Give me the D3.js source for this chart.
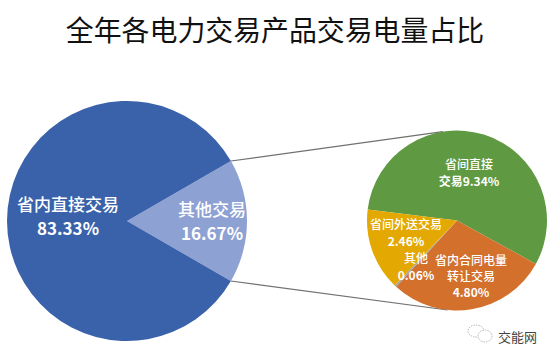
<!DOCTYPE html>
<html>
<head>
<meta charset="utf-8">
<script src="https://cdn.jsdelivr.net/npm/d3@7"></script>
<style>
  html, body { margin: 0; padding: 0; background: #fff; }
  text { font-family: "Noto Sans CJK SC", sans-serif; }
</style>
</head>
<body>
<div id="chart"></div>
<script>
const title = '全年各电力交易产品交易电量占比';

// Main pie
const mainNames = ['其他交易', '省内直接交易'];
const mainValues = [16.67, 83.33];
const mainColors = ['#8ea1d3', '#3a62aa'];

// Detail pie (breakdown of 其他交易)
const subNames = ['省间直接交易', '省内合同电量转让交易', '其他', '省间外送交易'];
const subValues = [9.34, 4.80, 0.06, 2.46];
const subColors = ['#5f9a42', '#d2702c', '#a5a5a5', '#e3a902'];

const width = 554;
const height = 358;

const svg = d3.select('#chart')
  .append('svg')
  .attr('width', width)
  .attr('height', height)
  .style('display', 'block');

svg.append('text')
  .attr('x', 275)
  .attr('y', 41)
  .attr('text-anchor', 'middle')
  .attr('font-size', '27.9px')
  .attr('fill', '#111')
  .text(title);

const deg = Math.PI / 180;

// Main pie, 其他 slice centred on the right
const mainCenter = [127, 221];
const mainR = 120;
const mainPie = d3.pie().sort(null).startAngle(60 * deg).endAngle(420 * deg);
const mainArc = d3.arc().innerRadius(0).outerRadius(mainR);
const mainArcs = mainPie(mainValues);

// Detail pie
const subCenter = [457, 220.5];
const subR = 90;
const subPie = d3.pie().sort(null).startAngle(-83 * deg).endAngle(277 * deg);
const subArc = d3.arc().innerRadius(0).outerRadius(subR);

const polar = (c, r, a) => [c[0] + r * Math.sin(a), c[1] - r * Math.cos(a)];

// Connector lines between the pies
const connectors = [
  [polar(mainCenter, mainR, mainArcs[0].startAngle), polar(subCenter, subR, -9 * deg)],
  [polar(mainCenter, mainR, mainArcs[0].endAngle), polar(subCenter, subR, 186 * deg)]
];
svg.selectAll('line.connector')
  .data(connectors)
  .enter()
  .append('line')
  .attr('class', 'connector')
  .attr('x1', d => d[0][0])
  .attr('y1', d => d[0][1])
  .attr('x2', d => d[1][0])
  .attr('y2', d => d[1][1])
  .attr('stroke', '#707070')
  .attr('stroke-width', 1.2);

svg.append('g')
  .attr('transform', `translate(${mainCenter})`)
  .selectAll('path')
  .data(mainArcs)
  .enter()
  .append('path')
  .attr('d', mainArc)
  .attr('fill', (d, i) => mainColors[i]);

svg.append('g')
  .attr('transform', `translate(${subCenter})`)
  .selectAll('path')
  .data(subPie(subValues))
  .enter()
  .append('path')
  .attr('d', subArc)
  .attr('fill', (d, i) => subColors[i]);

// Labels: names medium, percentages bold
function label(x, y, size, lines, lead) {
  const t = svg.append('text')
    .attr('text-anchor', 'middle')
    .attr('fill', '#fff')
    .attr('font-size', size + 'px');
  lines.forEach((s, i) => {
    t.append('tspan')
      .attr('x', x)
      .attr('y', y + i * lead)
      .attr('font-weight', s.includes('%') ? 700 : 500)
      .text(s);
  });
}

const pct = v => d3.format('.2f')(v) + '%';

label(68, 211, 17, [mainNames[1], pct(mainValues[1])], 24);
label(212, 216, 17, [mainNames[0], pct(mainValues[0])], 24);
label(469, 169, 12, ['省间直接', '交易' + pct(subValues[0])], 17);
label(471, 265, 12, ['省内合同电量', '转让交易', pct(subValues[1])], 16);
label(406, 229, 12, [subNames[3], pct(subValues[3])], 17);
label(416, 263, 12, [subNames[2], pct(subValues[2])], 17);

// Watermark
const mark = svg.append('g').attr('fill', 'none').attr('stroke', '#999').attr('stroke-width', 0.7).attr('stroke-dasharray', '1.5 1');
mark.append('ellipse').attr('cx', 476).attr('cy', 331).attr('rx', 8).attr('ry', 6);
mark.append('ellipse').attr('cx', 485).attr('cy', 336).attr('rx', 7).attr('ry', 6).attr('fill', '#fff');

svg.append('text')
  .attr('x', 498)
  .attr('y', 342)
  .attr('font-size', '13px')
  .attr('fill', '#444')
  .text('交能网');
</script>
</body>
</html>
